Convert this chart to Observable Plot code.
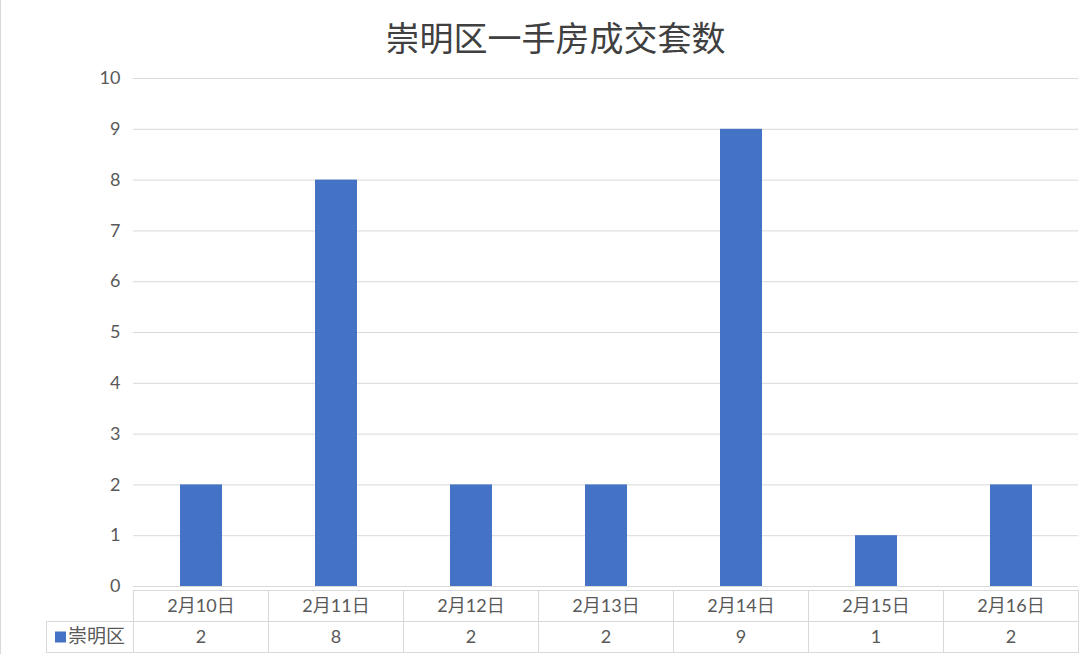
<!DOCTYPE html>
<html><head><meta charset="utf-8">
<script src="https://cdn.jsdelivr.net/npm/d3@7"></script>
<script src="https://cdn.jsdelivr.net/npm/@observablehq/plot@0.6"></script>
<style>
body{margin:0;background:#fff;}
#wrap{width:1080px;height:654px;position:relative;border-left:1px solid #d9d9d9;box-sizing:border-box;overflow:hidden;}
#title{height:60px;box-sizing:border-box;padding-top:13px;padding-left:30px;line-height:48px;text-align:center;font-family:"Noto Sans CJK SC",sans-serif;font-size:34px;color:#404040;}
</style></head>
<body><div id="wrap"><div id="title">崇明区一手房成交套数</div><div id="chart"></div></div>
<script>
const dates = ["2月10日","2月11日","2月12日","2月13日","2月14日","2月15日","2月16日"];
const values = [2, 8, 2, 2, 9, 1, 2];
const seriesName = "崇明区";
const yTicks = [0,1,2,3,4,5,6,7,8,9,10];
const data = dates.map((d,i)=>({date:d, value:values[i]}));

const font = "Lato, 'Noto Sans CJK SC', sans-serif";
const chart = Plot.plot({
  width: 1079, height: 594,
  marginLeft: 132, marginRight: 2, marginTop: 18, marginBottom: 68,
  style: {fontFamily: font, fontSize: "18px", color: "#595959", background: "#fff"},
  x: {domain: dates, paddingInner: 0.69, paddingOuter: 0.345, axis: null},
  y: {domain: [0,10], axis: null},
  marks: [
    Plot.gridY(yTicks, {stroke: "#d9d9d9", strokeOpacity: 1}),
    Plot.axisY(yTicks, {tickSize: 0, tickPadding: 13, label: null, fill: "#595959", fontSize: 18, tickFormat: d => d}),
    Plot.barY(data, {x: "date", y: "value", fill: "#4472C4"})
  ]
});
document.getElementById("chart").appendChild(chart);

// data table below the plot, positioned using Plot's own scales
const xs = chart.scale("x"), ys = chart.scale("y");
const svg = d3.select(chart);
const base = ys.apply(0);
const step = xs.step;
const centers = dates.map(d => xs.apply(d) + xs.bandwidth/2);
const left = centers[0] - step/2, right = centers[centers.length-1] + step/2;
const r0 = base + 4, r1 = r0 + 31, r2 = r1 + 31;
const legendLeft = 45;
const g = svg.append("g").attr("stroke", "#d9d9d9").attr("stroke-width", 1).attr("shape-rendering","crispEdges");
g.append("line").attr("x1", left).attr("x2", right).attr("y1", r0).attr("y2", r0);
g.append("line").attr("x1", legendLeft).attr("x2", right).attr("y1", r1).attr("y2", r1);
g.append("line").attr("x1", legendLeft).attr("x2", right).attr("y1", r2).attr("y2", r2);
g.append("line").attr("x1", legendLeft).attr("x2", legendLeft).attr("y1", r1).attr("y2", r2);
dates.forEach((d,i) => {
  const x = centers[i] - step/2;
  g.append("line").attr("x1", x).attr("x2", x).attr("y1", r0).attr("y2", r2);
});
g.append("line").attr("x1", right).attr("x2", right).attr("y1", r0).attr("y2", r2);

const t = svg.append("g").attr("font-family", font).attr("font-size", 18).attr("fill", "#595959").attr("text-anchor","middle");
dates.forEach((d,i) => {
  t.append("text").attr("x", centers[i]).attr("y", (r0+r1)/2).attr("dy","0.35em").text(d);
  t.append("text").attr("x", centers[i]).attr("y", (r1+r2)/2).attr("dy","0.35em").text(values[i]);
});
svg.append("rect").attr("x", 54).attr("y", (r1+r2)/2 - 5).attr("width", 11).attr("height", 11).attr("fill", "#4472C4");
svg.append("text").attr("x", 67).attr("y", (r1+r2)/2).attr("dy","0.35em").attr("text-anchor","start").attr("font-family", font).attr("font-size", 19).attr("fill","#595959").text(seriesName);
</script>
</body></html>
